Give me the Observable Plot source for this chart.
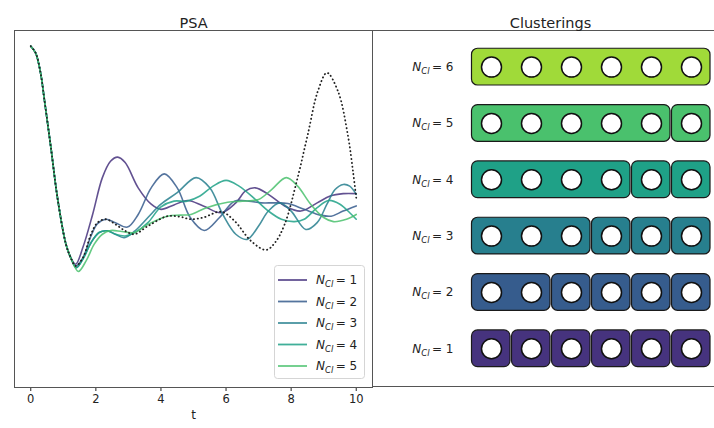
<!DOCTYPE html>
<html><head><meta charset="utf-8">
<script src="https://cdn.jsdelivr.net/npm/d3@7"></script>
<script src="https://cdn.jsdelivr.net/npm/@observablehq/plot@0.6"></script>
<style>
html,body{margin:0;padding:0;background:#fff;}
#wrap{position:relative;width:714px;height:428px;overflow:hidden;font-family:"DejaVu Sans",sans-serif;background:#fff;}
#left{position:absolute;left:0;top:0;width:372px;height:428px;}
#right{position:absolute;left:371px;top:0;width:358px;height:428px;}
#wrap svg{max-width:none !important;}
#legend{position:absolute;left:0;top:0;pointer-events:none;}
</style></head><body>
<div id="wrap"><div id="right"></div><div id="left"></div><svg id="legend" width="714" height="428"></svg></div>
<script>
// ---- PSA panel data (y has no axis, top of curve = 1) ----
const xTicks = [0, 2, 4, 6, 8, 10];
const seriesNames = ["1", "2", "3", "4", "5"];
const seriesColors = ["#46337e", "#365c8d", "#277f8e", "#1fa187", "#4ac16d"];

const tCommon = [0, 0.15, 0.31, 0.41, 0.62, 0.82, 1.08, 1.23];
const vCommon = [1.000, 0.980, 0.917, 0.849, 0.702, 0.556, 0.420, 0.380];

const tExact = [1.38, 1.6, 1.85, 2.05, 2.31, 2.6, 2.9, 3.18, 3.6, 4.2, 4.6, 4.92, 5.3, 5.85, 6.26, 6.77, 7.23, 7.5, 7.8, 8.2, 8.51, 8.82, 9.1, 9.44, 9.74, 9.9, 10];
const vExact = [0.356, 0.380, 0.449, 0.483, 0.493, 0.478, 0.459, 0.449, 0.473, 0.502, 0.500, 0.493, 0.498, 0.515, 0.488, 0.429, 0.403, 0.424, 0.478, 0.615, 0.741, 0.868, 0.922, 0.868, 0.741, 0.634, 0.556];

const t1 = [1.38, 1.6, 1.9, 2.2, 2.45, 2.67, 2.9, 3.3, 3.7, 4.0, 4.4, 4.82, 5.3, 5.85, 6.3, 6.6, 6.9, 7.3, 7.8, 8.3, 8.8, 9.2, 9.6, 10];
const v1 = [0.361, 0.410, 0.507, 0.615, 0.663, 0.675, 0.659, 0.585, 0.537, 0.522, 0.535, 0.548, 0.532, 0.512, 0.541, 0.576, 0.585, 0.566, 0.532, 0.517, 0.541, 0.561, 0.568, 0.568];

const t2 = [1.38, 1.6, 1.85, 2.05, 2.31, 2.6, 2.97, 3.3, 3.7, 4.1, 4.5, 4.9, 5.33, 5.8, 6.26, 6.7, 7.08, 7.5, 7.9, 8.4, 8.9, 9.23, 9.6, 10];
const v2 = [0.356, 0.380, 0.444, 0.480, 0.493, 0.483, 0.470, 0.507, 0.585, 0.626, 0.585, 0.498, 0.460, 0.498, 0.546, 0.546, 0.541, 0.541, 0.539, 0.522, 0.505, 0.502, 0.517, 0.532];

const t3 = [1.4, 1.6, 1.85, 2.1, 2.36, 2.6, 2.87, 3.2, 3.6, 4.0, 4.5, 5.08, 5.5, 5.9, 6.3, 6.65, 7.0, 7.3, 7.65, 8.0, 8.45, 8.8, 9.1, 9.35, 9.6, 9.8, 10];
const v3 = [0.351, 0.376, 0.424, 0.454, 0.459, 0.449, 0.439, 0.459, 0.498, 0.537, 0.571, 0.615, 0.585, 0.507, 0.449, 0.434, 0.473, 0.517, 0.541, 0.517, 0.463, 0.483, 0.537, 0.580, 0.595, 0.590, 0.566];

const t4 = [1.4, 1.6, 1.85, 2.1, 2.36, 2.6, 2.9, 3.2, 3.6, 4.0, 4.4, 4.8, 5.2, 5.6, 6.0, 6.4, 6.9, 7.3, 7.7, 8.1, 8.4, 8.8, 9.15, 9.5, 9.8, 10];
const v4 = [0.351, 0.376, 0.424, 0.454, 0.459, 0.449, 0.444, 0.454, 0.483, 0.529, 0.546, 0.546, 0.561, 0.590, 0.607, 0.590, 0.551, 0.517, 0.493, 0.486, 0.493, 0.527, 0.548, 0.537, 0.512, 0.493];

const t5 = [1.46, 1.7, 1.95, 2.2, 2.46, 2.8, 3.18, 3.6, 4.2, 4.6, 4.92, 5.4, 6.05, 6.5, 7.0, 7.4, 7.85, 8.2, 8.6, 9.0, 9.3, 9.7, 10];
const v5 = [0.340, 0.371, 0.420, 0.449, 0.460, 0.457, 0.454, 0.478, 0.502, 0.505, 0.507, 0.527, 0.543, 0.546, 0.551, 0.580, 0.615, 0.590, 0.537, 0.498, 0.486, 0.493, 0.507];

// ---- Clusterings panel data ----
const levels = [1, 2, 3, 4, 5, 6];
const nodeIds = [0, 1, 2, 3, 4, 5];
const levelColors = ["#46337e", "#365c8d", "#277f8e", "#1fa187", "#4ac16d", "#a0da39"];
const groupSizes1 = [1, 1, 1, 1, 1, 1];
const groupSizes2 = [2, 1, 1, 1, 1];
const groupSizes3 = [3, 1, 1, 1];
const groupSizes4 = [4, 1, 1];
const groupSizes5 = [5, 1];
const groupSizes6 = [6];
const groupSizes = [groupSizes1, groupSizes2, groupSizes3, groupSizes4, groupSizes5, groupSizes6];

// ---- build tables ----
function series(ts, vs, name) {
  const rows = tCommon.map((t, i) => ({t, v: vCommon[i], series: name}));
  ts.forEach((t, i) => rows.push({t, v: vs[i], series: name}));
  return rows;
}
const seriesData = [series(t1, v1, "1"), series(t2, v2, "2"), series(t3, v3, "3"), series(t4, v4, "4"), series(t5, v5, "5")];
const exactData = series(tExact, vExact, "exact");

const groups = [];
levels.forEach((n, li) => {
  let start = 0;
  groupSizes[li].forEach(s => { groups.push({n, start, end: start + s, color: levelColors[li]}); start += s; });
});
const nodes = levels.flatMap(n => nodeIds.map(i => ({n, i})));

const FONT = "DejaVu Sans";

const lineMarks = seriesData.map((d, i) => Plot.line(d, {
  x: "t", y: "v", stroke: seriesColors[i], strokeWidth: 1.6, strokeOpacity: 0.85, curve: "catmull-rom"
}));

const left = Plot.plot({
  width: 372, height: 428,
  marginLeft: 14, marginRight: 0, marginTop: 30, marginBottom: 41,
  x: {domain: [-0.5, 10.5], ticks: xTicks, tickSize: 4, tickPadding: 3, label: null},
  y: {domain: [0, 1.046], axis: null},
  style: {fontFamily: FONT, fontSize: "11.5px", color: "#222", background: "#fff", overflow: "visible"},
  marks: [
    ...lineMarks,
    Plot.line(exactData, {x: "t", y: "v", stroke: "#222", strokeWidth: 1.8, strokeDasharray: "0.3,3.6",
      strokeLinecap: "round", curve: "catmull-rom"}),
    Plot.frame({stroke: "#555"}),
    Plot.text(["PSA"], {frameAnchor: "top", dy: -13, fontSize: 14.5, fill: "#222"}),
    Plot.text(["t"], {frameAnchor: "bottom", dy: 31, fontSize: 12, fill: "#222"})
  ]
});
document.getElementById("left").appendChild(left);

const right = Plot.plot({
  width: 358, height: 428,
  marginLeft: 0, marginRight: 0, marginTop: 30, marginBottom: 42,
  x: {domain: [-2.5, 6.45], axis: null},
  y: {domain: [0.33, 6.65], axis: null},
  style: {fontFamily: FONT, fontSize: "12px", color: "#222", background: "#fff", overflow: "visible"},
  marks: [
    Plot.frame({stroke: "#555"}),
    Plot.rect(groups, {x1: "start", x2: "end", y1: d => d.n - 0.326, y2: d => d.n + 0.326,
      fill: "color", stroke: "#1a1a1a", strokeWidth: 1.2, rx: 6, insetLeft: 0.5, insetRight: 1}),
    Plot.dot(nodes, {x: d => d.i + 0.5, y: "n", r: 10, fill: "white", stroke: "#111", strokeWidth: 1.5}),
    Plot.text(levels, {x: () => 0, y: d => d, dx: -18, text: d => String(d), textAnchor: "end", fill: "#222"}),
    Plot.text(["Clusterings"], {frameAnchor: "top", dy: -13, fontSize: 14.5, fill: "#222"})
  ]
});
right.style.maxWidth = "none";
left.style.maxWidth = "none";
document.getElementById("right").appendChild(right);

// Math-like label N_{Cl} = n
function fillNcl(textEl, n) {
  const sel = d3.select(textEl);
  sel.text(null);
  sel.append("tspan").attr("font-style", "italic").text("N");
  sel.append("tspan").attr("font-style", "italic").attr("font-size", "8.5px").attr("dy", "3").text("Cl");
  sel.append("tspan").attr("dy", "-3").text("\u2009= " + n);
}
d3.select(right).selectAll("text").each(function() {
  const s = this.textContent.trim();
  if (/^\d$/.test(s)) fillNcl(this, s);
});

// Legend overlay (inside PSA axes, lower right)
const lg = d3.select("#legend");
const box = {x: 274.5, y: 265.5, w: 90, h: 113};
lg.append("rect").attr("x", box.x).attr("y", box.y).attr("width", box.w).attr("height", box.h)
  .attr("rx", 3).attr("fill", "white").attr("fill-opacity", 0.85).attr("stroke", "#d5d5d5");
seriesNames.forEach((name, i) => {
  const y = 280 + i * 21.5;
  lg.append("line").attr("x1", 278).attr("x2", 307).attr("y1", y).attr("y2", y)
    .attr("stroke", seriesColors[i]).attr("stroke-width", 1.8).attr("stroke-opacity", 0.85);
  const t = lg.append("text").attr("x", 316).attr("y", y).attr("dy", "0.35em")
    .attr("font-family", FONT).attr("font-size", "12px").attr("fill", "#222");
  fillNcl(t.node(), name);
});
</script>
</body></html>
